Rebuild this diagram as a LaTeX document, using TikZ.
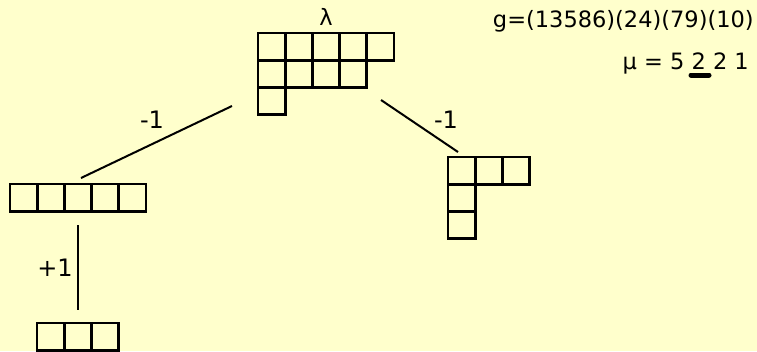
\documentclass[tikz,border=0pt]{standalone}
\usepackage{fontspec}
\setmainfont{DejaVu Sans}
\usetikzlibrary{positioning}
\definecolor{paper}{RGB}{255,255,204}

\begin{document}
\begin{tikzpicture}[
    x=1pt, y=-1pt,
    cell/.style={
        draw,
        line width=2.8pt,
        minimum size=27.2pt,
        inner sep=0pt,
        outer sep=0pt,
        anchor=north west
    },
    edge/.style={
        line width=2pt
    },
    lbl/.style={
        font=\fontsize{24}{28}\selectfont
    },
    txt/.style={
        font=\fontsize{22.5}{26}\selectfont,
        inner sep=0pt
    }
]

% Background
\fill[paper] (0,0) rectangle (757,351);
\useasboundingbox (0,0) rectangle (757,351);

% Diagrams
\foreach \r/\n in {0/5,1/4,2/1}
    \foreach \c in {1,...,\n}
        \node[cell] (lam-\r-\c) at ({258+27.2*(\c-1)},{33+27.2*\r}) {};
\foreach \c in {1,...,5}
    \node[cell] (row-\c) at ({10+27.2*(\c-1)},184) {};
\foreach \c in {1,...,3}
    \node[cell] (low-\c) at ({37+27.2*(\c-1)},323) {};
\foreach \r/\n in {0/3,1/1,2/1}
    \foreach \c in {1,...,\n}
        \node[cell] (hook-\r-\c) at ({448+27.2*(\c-1)},{157+27.2*\r}) {};

% Texts
\node (lam) [txt, anchor=base] at (326,25) {λ};
\node (perm) [txt, anchor=base east] at (754,27) {g=(13586)(24)(79)(10)};
\node (mu) [txt, anchor=base east] at (749,69) {μ = 5 2 2 1};
\draw [line width=5pt, line cap=round] (691,75) -- (709,75);

% Paths
\coordinate (lamL) at (232,106);
\coordinate (rowT) at (81,178);
\coordinate (lamR) at (381,100);
\coordinate (hookT) at (458,152);
\coordinate (rowB) at (78,225);
\coordinate (lowT) at (78,310);
\draw [edge] (lamL) -- (rowT);
\node [lbl] at (152,120) {-1};
\draw [edge] (lamR) -- (hookT);
\node [lbl] at (446,120) {-1};
\draw [edge] (rowB) -- node[lbl, left=1pt] {+1} (lowT);

\end{tikzpicture}
\end{document}
